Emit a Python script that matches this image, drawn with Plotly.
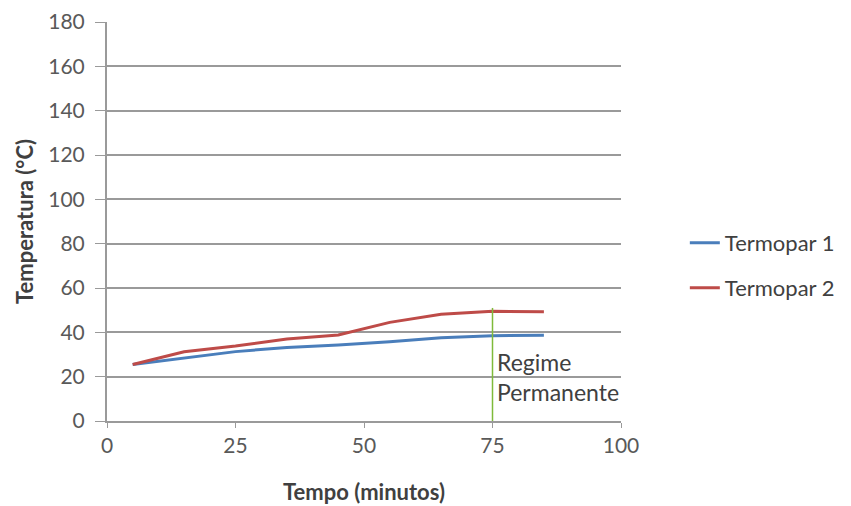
import plotly.graph_objects as go

tempo = [5, 15, 25, 35, 45, 55, 65, 75, 85]
termopar1 = [25.5, 28.3, 31.3, 33.2, 34.3, 35.8, 37.6, 38.5, 38.7]
termopar2 = [25.5, 31.2, 33.8, 37.0, 38.8, 44.5, 48.2, 49.5, 49.3]
regime_x = [75, 75]
regime_y = [0, 51]
x_ticks = [0, 25, 50, 75, 100]
y_ticks = [0, 20, 40, 60, 80, 100, 120, 140, 160, 180]

font_family = "Lato, 'Open Sans', 'Noto Sans', sans-serif"
grid_col = "#9a9a9a"

fig = go.Figure()
fig.add_trace(go.Scatter(x=tempo, y=termopar1, mode="lines", name="Termopar 1",
                         line=dict(color="#4a7ebb", width=3), legend="legend"))
fig.add_trace(go.Scatter(x=tempo, y=termopar2, mode="lines", name="Termopar 2",
                         line=dict(color="#be4b48", width=3), legend="legend2"))
fig.add_trace(go.Scatter(x=regime_x, y=regime_y, mode="lines", showlegend=False,
                         line=dict(color="#7fba3a", width=1.5)))

fig.add_annotation(x=75, y=20, xref="x", yref="y", text="Regime<br>Permanente",
                   showarrow=False, xanchor="left", yanchor="middle", align="left", xshift=2,
                   font=dict(family=font_family, size=23, color="#404040"))

fig.update_layout(
    width=851, height=506,
    margin=dict(l=107, r=229, t=22, b=85),
    plot_bgcolor="white", paper_bgcolor="white",
    font=dict(family=font_family, size=20, color="#595959"),
    xaxis=dict(range=[0, 100], tickvals=x_ticks, showgrid=False, zeroline=False,
               showline=True, linecolor=grid_col, linewidth=2,
               ticks="outside", ticklen=5, tickcolor=grid_col, automargin=False,
               tickfont=dict(size=21, color="#595959"),
               title=dict(text="<b>Tempo (minutos)</b>", font=dict(size=22, color="#404040"), standoff=28)),
    yaxis=dict(range=[0, 180], tickvals=y_ticks, showgrid=True, gridcolor=grid_col, gridwidth=2,
               zeroline=False, showline=True, linecolor=grid_col, linewidth=2,
               ticks="outside", ticklen=10, tickcolor=grid_col, automargin=False,
               ticklabelstandoff=6,
               tickfont=dict(size=21, color="#595959"),
               title=dict(text="<b>Temperatura (°C)</b>", font=dict(size=22, color="#404040"), standoff=9)),
    legend=dict(x=1.122, y=(421 - 243) / 399, xanchor="left", yanchor="middle",
                font=dict(size=22, color="#404040"), bgcolor="rgba(0,0,0,0)"),
    legend2=dict(x=1.122, y=(421 - 288) / 399, xanchor="left", yanchor="middle",
                 font=dict(size=22, color="#404040"), bgcolor="rgba(0,0,0,0)"),
)

fig.write_html("out.html")
